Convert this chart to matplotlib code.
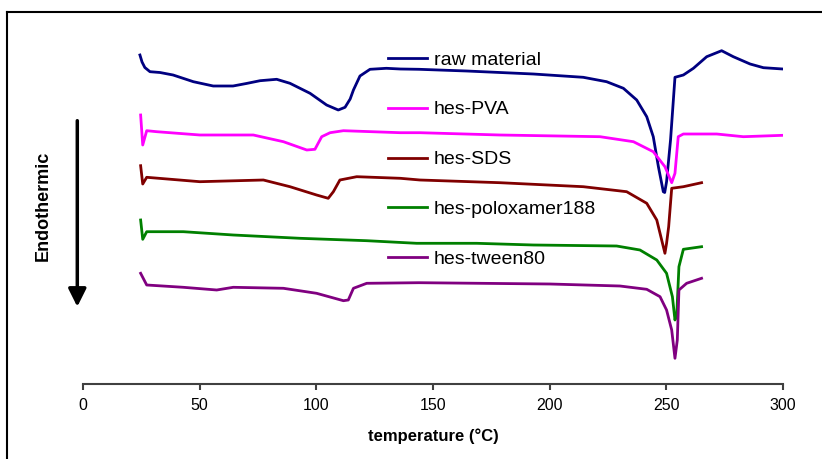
import matplotlib.pyplot as plt

plt.rcParams["font.family"] = ["Liberation Sans", "DejaVu Sans"]

# DSC traces (temperature in degC, heat flow in arbitrary offset units)
raw_t = [24.4, 25.3, 26.5, 28.7, 33.0, 38.6, 47.3, 55.8, 64.3, 70.0, 75.9, 83.0, 88.7, 97.3,
         104.4, 109.4, 112.3, 114.5, 115.9, 118.7, 123.0, 130.0, 136.0, 144.0, 164.4, 193.0,
         214.4, 224.4, 231.6, 237.3, 241.6, 244.4, 246.6, 248.7, 249.3, 250.1, 251.8, 253.7,
         257.3, 261.6, 267.3, 273.7, 278.7, 285.9, 291.6, 299.9]
raw_hf = [329, 322, 316.5, 312.3, 311.5, 309, 302.3, 298, 298, 300.5, 303.3, 304.7, 300.7,
          290.7, 279, 274, 276.7, 285, 294, 308, 314.7, 315.7, 315, 314.7, 313, 310,
          306.7, 302.3, 295.7, 284, 267.3, 247.3, 217.3, 192.3, 191.5, 202.3, 244, 306.7,
          309, 315.7, 327.3, 333.3, 327.3, 320, 316.3, 315]

pva_t = [24.7, 25.6, 27.3, 31.6, 50.1, 73.0, 85.9, 95.9, 99.4, 102.3, 105.9, 111.6, 136.0,
         144.4, 178.7, 221.6, 235.9, 244.4, 249.4, 252.3, 253.7, 255.1, 257.3, 271.6, 283.0, 300.1]
pva_hf = [269, 239, 253.3, 252.3, 249, 249, 242.3, 234, 234.7, 247.3, 251.3, 253.3, 251.3,
          251.3, 249, 247.3, 242.3, 232.3, 217.3, 201.3, 210.7, 247.3, 250, 250, 247.3, 248.7]

sds_t = [24.7, 25.6, 27.3, 50.1, 77.3, 88.7, 100.1, 105.1, 107.3, 110.1, 117.3, 136.0, 144.4,
         178.7, 214.4, 233.0, 241.6, 245.9, 247.3, 249.4, 250.1, 251.0, 252.3, 257.3, 265.1]
sds_hf = [218.3, 200, 206.7, 202.3, 204, 197.3, 189, 185.7, 192.3, 204, 207.3, 205.7, 204,
          201.3, 197.3, 192.3, 180.7, 164, 150.7, 130.7, 140.7, 157.3, 195.7, 197.3, 201.3]

polox_t = [24.7, 25.6, 27.3, 43.0, 64.4, 93.0, 121.6, 143.0, 168.7, 193.0, 228.7, 238.7,
           245.9, 250.1, 252.6, 253.7, 254.5, 255.4, 257.3, 265.1]
polox_hf = [164, 144.7, 152.3, 152.3, 149, 145.7, 143.3, 140.7, 140.7, 139, 138, 134,
            124, 110.7, 87.3, 64, 70.7, 117.3, 134.7, 137.3]

tween_t = [24.7, 27.3, 43.0, 57.3, 64.4, 85.9, 100.1, 111.6, 113.7, 115.9, 121.6, 144.0,
           200.1, 230.1, 241.6, 247.3, 250.1, 252.3, 253.7, 254.7, 255.4, 258.7, 265.1]
tween_hf = [110.7, 99, 96.7, 94, 96.7, 95.7, 90.7, 83.3, 84, 95.7, 100.7, 101.3,
            100, 98, 94.7, 87.3, 74, 54, 25.7, 44, 94, 100.7, 105.7]

series = [
    ("raw material", raw_t, raw_hf, "#000080"),
    ("hes-PVA", pva_t, pva_hf, "#FF00FF"),
    ("hes-SDS", sds_t, sds_hf, "#800000"),
    ("hes-poloxamer188", polox_t, polox_hf, "#008000"),
    ("hes-tween80", tween_t, tween_hf, "#800080"),
]
x_ticks = [0, 50, 100, 150, 200, 250, 300]

W, H = 822, 459
fig = plt.figure(figsize=(W / 100, H / 100), dpi=100)
ax = fig.add_axes([83 / W, 75 / H, 700 / W, 372 / H])

for label, t, hf, color in series:
    ax.plot(t, hf, color=color, lw=2, label=label)

ax.set_xlim(0, 300)
ax.set_ylim(0, 372)
ax.set_xticks(x_ticks)
ax.set_yticks([])
for side in ["left", "right", "top"]:
    ax.spines[side].set_visible(False)
ax.spines["bottom"].set_color("#404040")
ax.spines["bottom"].set_linewidth(1.5)
ax.tick_params(axis="x", direction="out", length=4, width=1.5, color="#404040",
               labelsize=11.5, pad=6)
ax.patch.set_visible(False)

ax.set_xlabel("temperature (\u00b0C)", fontsize=12, fontweight="bold", labelpad=11)

ax.legend(loc="upper left", bbox_to_anchor=(388 / W, 1 - 51 / H),
          bbox_transform=fig.transFigure, frameon=False, fontsize=14,
          handlelength=2.0, handletextpad=0.35, labelspacing=1.66,
          borderpad=0, borderaxespad=0)

# endothermic direction arrow and label
fig.text(43.5 / W, 1 - 206 / H, "Endothermic", rotation=90, fontsize=13,
         fontweight="bold", ha="center", va="center")
ax.annotate("", xy=(77.3, H - 306.7), xytext=(77.3, H - 120.7),
            xycoords="figure pixels", textcoords="figure pixels",
            arrowprops=dict(arrowstyle="-|>,head_length=0.6,head_width=0.3",
                            mutation_scale=18, lw=2.5, color="black",
                            shrinkA=0, shrinkB=0))

# chart border (top and left edges visible)
fig.add_artist(plt.Line2D([7 / W, 1], [1 - 12 / H, 1 - 12 / H], color="black", lw=1.5))
fig.add_artist(plt.Line2D([7 / W, 7 / W], [0, 1 - 12 / H], color="black", lw=1.5))

fig.savefig("out.png", dpi=100)
